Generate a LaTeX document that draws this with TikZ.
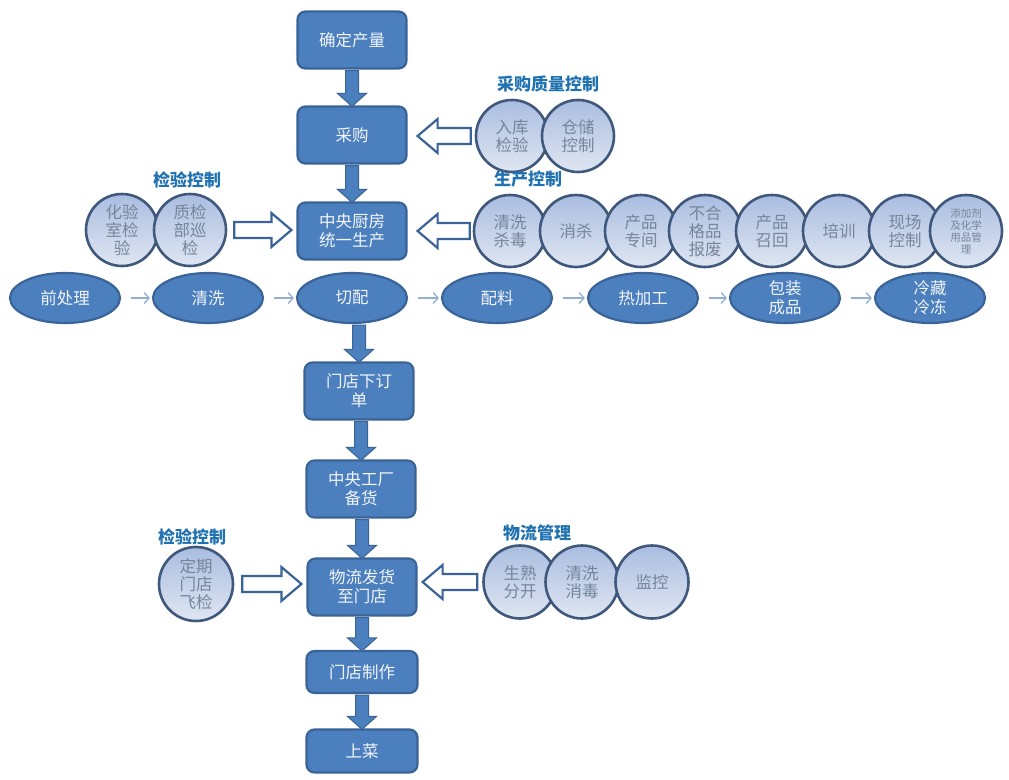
\documentclass[tikz,border=0pt]{standalone}
\usepackage{fontspec}
\setmainfont{Noto Sans CJK SC}
\usetikzlibrary{calc,arrows.meta,shapes.geometric}
\definecolor{boxfill}{HTML}{4C7FBD}
\definecolor{boxline}{HTML}{3A6397}
\definecolor{bubtop}{HTML}{AABDE0}
\definecolor{bubbot}{HTML}{DFE6F2}
\definecolor{bubline}{HTML}{3F587B}
\definecolor{bubtext}{HTML}{76859C}
\definecolor{lbl}{HTML}{2172B0}
\definecolor{thinc}{HTML}{95AFD2}
\tikzset{
  pbox/.style={draw=boxline, line width=2.2pt, fill=boxfill, rounded corners=8pt,
    text=white!92!boxfill, font=\fontsize{16.5}{19}\selectfont, align=center,
    minimum width=109pt, minimum height=57pt, inner sep=0pt},
  pell/.style={ellipse, draw=boxline, line width=2.2pt, fill=boxfill,
    text=white!92!boxfill, font=\fontsize{16.5}{19}\selectfont, align=center,
    minimum width=110pt, minimum height=50pt, inner sep=0pt},
  bub/.style={circle, draw=bubline, line width=2.6pt, top color=bubtop, bottom color=bubbot,
    text=bubtext, font=\fontsize{16.5}{18}\selectfont, align=center,
    minimum size=72pt, inner sep=0pt},
  lab/.style={text=lbl, font=\fontsize{17}{19}\selectfont\bfseries, inner sep=0pt},
  fatarr/.style={fill=boxfill, draw=boxline, line width=1pt, line join=miter},
  hollowarr/.style={fill=white, draw=boxline, line width=2.2pt, line join=miter},
  thinarr/.style={draw=thinc, line width=1.3pt, -{Straight Barb[length=5pt,width=11pt]}}
}
\newcommand\fatdown[2]{%
  \path[fatarr] let \p1=(#1.south), \p2=(#2.north) in
    (\x2-6.5pt,\y1-1pt) -- (\x2-6.5pt,\y2+12pt) -- (\x2-14.5pt,\y2+12pt) -- (\x2,\y2-1pt)
    -- (\x2+14.5pt,\y2+12pt) -- (\x2+6.5pt,\y2+12pt) -- (\x2+6.5pt,\y1-1pt) -- cycle;}
% #3: head length, positive when the arrow points right, negative when it points left
\newcommand\hollowarrow[3]{%
  \draw[hollowarr] let \p1=(#1), \p2=(#2), \n1={#3} in
    (\x1,\y1+8pt) -- ({\x2-\n1},\y1+8pt) -- ({\x2-\n1},\y1+17pt) -- (\x2,\y1)
    -- ({\x2-\n1},\y1-17pt) -- ({\x2-\n1},\y1-8pt) -- (\x1,\y1-8pt) -- cycle;}
\begin{document}
\begin{tikzpicture}[x=1pt,y=-1pt]
\useasboundingbox[fill=white] (0,0) rectangle (1009,779);
% main column
\node[pbox] (qd) at (352,40) {确定产量};
\node[pbox] (cg) at (352,135) {采购};
\node[pbox] (zy) at (352,231) {中央厨房\\统一生产};
\node[pbox] (mx) at (359,391) {门店下订\\单};
\node[pbox] (zg) at (361,489) {中央工厂\\备货};
\node[pbox] (wl) at (362,587) {物流发货\\至门店};
\node[pbox, minimum height=42pt, minimum width=111pt] (mz) at (362,672) {门店制作};
\node[pbox, minimum height=43pt, minimum width=111pt] (sc) at (362,751) {上菜};
% process row
\node[pell] (e1) at (65,298) {前处理};
\node[pell] (e2) at (208,298) {清洗};
\node[pell] (e3) at (352,298) {切配};
\node[pell] (e4) at (497,298) {配料};
\node[pell] (e5) at (643,298) {热加工};
\node[pell] (e6) at (785,298) {包装\\成品};
\node[pell] (e7) at (930,298) {冷藏\\冷冻};
\foreach \a/\b in {e1/e2,e2/e3,e3/e4,e4/e5,e5/e6,e6/e7}
  \draw[thinarr] ([xshift=10pt]\a.east) -- ([xshift=-2pt]\b.west);
% procurement quality control
\node[lab] (l1) at (548,84) {采购质量控制};
\node[bub] (rk) at (512,136) {入库\\检验};
\node[bub] (cc) at (578,136) {仓储\\控制};
% production control
\node[lab] (l2) at (528,179) {生产控制};
\node[bub] (p1) at (510,231) {清洗\\杀毒};
\node[bub] (p2) at (576,231) {消杀};
\node[bub] (p3) at (641,231) {产品\\专间};
\node[bub] (p4) at (705,231) {不合\\格品\\报废};
\node[bub] (p5) at (772,231) {产品\\召回};
\node[bub] (p6) at (839,231) {培训};
\node[bub] (p7) at (905,231) {现场\\控制};
\node[bub, font=\fontsize{10.5}{12}\selectfont] (p8) at (966,231) {添加剂\\及化学\\用品管\\理};
% inspection control (top)
\node[lab] (l3) at (187,180) {检验控制};
\node[bub] (h1) at (122,230) {化验\\室检\\验};
\node[bub] (h2) at (190,230) {质检\\部巡\\检};
% inspection control (bottom)
\node[lab] (l4) at (192,537) {检验控制};
\node[bub, minimum size=74pt] (dq) at (196,584) {定期\\门店\\飞检};
% logistics
\node[lab] (l5) at (537,533) {物流管理};
\node[bub, minimum size=73pt] (s1) at (520,582) {生熟\\分开};
\node[bub, minimum size=73pt] (s2) at (582,582) {清洗\\消毒};
\node[bub, minimum size=73pt] (s3) at (652,582) {监控};
% fat arrows
\fatdown{qd}{cg}
\fatdown{cg}{zy}
\fatdown{e3}{mx}
\fatdown{mx}{zg}
\fatdown{zg}{wl}
\fatdown{wl}{mz}
\fatdown{mz}{sc}
% hollow arrows
\coordinate (a1t) at ([xshift=-4pt]rk.west);
\coordinate (a1h) at ([xshift=10pt]cg.east);
\hollowarrow{a1t}{a1h}{-20pt}
\coordinate (a2t) at ([xshift=-3pt]p1.west);
\coordinate (a2h) at ([xshift=10pt]zy.east);
\hollowarrow{a2t}{a2h}{-20pt}
\coordinate (a3t) at ([xshift=7pt]h2.east);
\coordinate (a3h) at ([xshift=-5pt]zy.west);
\hollowarrow{a3t}{a3h}{20pt}
\coordinate (a4t) at ([xshift=8pt]dq.east);
\coordinate (a4h) at ([xshift=-5pt]wl.west);
\hollowarrow{a4t}{a4h}{20pt}
\coordinate (a5t) at ([xshift=-5pt]s1.west);
\coordinate (a5h) at ([xshift=5pt]wl.east);
\hollowarrow{a5t}{a5h}{-20pt}
\end{tikzpicture}
\end{document}
